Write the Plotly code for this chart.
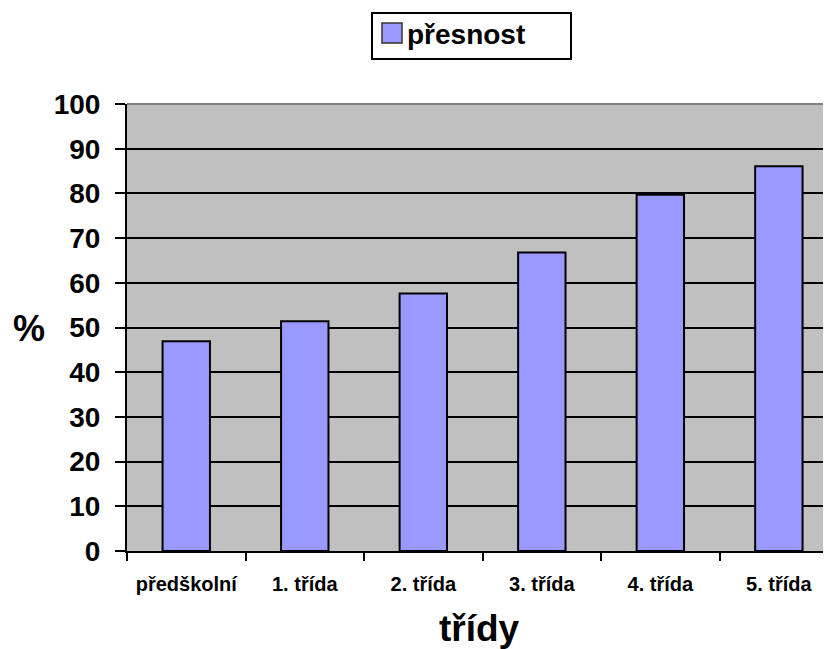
import plotly.graph_objects as go

tridy = ["předškolní", "1. třída", "2. třída", "3. třída", "4. třída", "5. třída"]
presnost = [46.9, 51.4, 57.6, 66.8, 79.7, 86.1]
nazev_serie = "přesnost"
nazev_osy_x = "třídy"
nazev_osy_y = "%"
y_ticks = list(range(0, 101, 10))

# stránka má okraj 8 px, graf proto posuneme
OFF = 8
W, H = 831 - OFF, 649 - OFF
L, R, T, B = 127 - OFF, 0, 104 - OFF, 98
FONT = "Arial, Liberation Sans, sans-serif"


def px_x(px):
    return (px - OFF - L) / (W - L - R)


def px_y(py):
    return (H - B - (py - OFF)) / (H - T - B)


trace = go.Bar(
    x=tridy,
    y=presnost,
    name=nazev_serie,
    width=0.4,
    marker={"color": "#9999FF", "line": {"color": "black", "width": 2}},
    showlegend=False,
)

layout = go.Layout(
    width=W,
    height=H,
    margin={"l": L, "r": R, "t": T, "b": B},
    paper_bgcolor="white",
    plot_bgcolor="#C0C0C0",
    font={"family": FONT, "color": "black", "weight": "bold"},
    xaxis={
        "type": "category",
        "range": [-0.5, 5.44],
        "tickson": "boundaries",
        "ticks": "outside",
        "ticklen": 8,
        "tickwidth": 2,
        "tickcolor": "black",
        "showline": True,
        "linecolor": "black",
        "linewidth": 2,
        "showgrid": False,
        "tickfont": {"size": 20, "family": FONT, "weight": "bold"},
        "ticklabelstandoff": 14,
        "title": {"text": nazev_osy_x, "font": {"size": 37, "family": FONT, "weight": "bold"}, "standoff": 26},
        "automargin": False,
    },
    yaxis={
        "range": [0, 100],
        "tickvals": y_ticks,
        "ticks": "outside",
        "ticklen": 10,
        "tickwidth": 2,
        "tickcolor": "black",
        "showline": True,
        "linecolor": "black",
        "linewidth": 2,
        "showgrid": True,
        "gridcolor": "black",
        "gridwidth": 2,
        "zeroline": False,
        "tickfont": {"size": 28, "family": FONT, "weight": "bold"},
        "ticklabelstandoff": 9,
        "automargin": False,
    },
    shapes=[
        # horní okraj plochy grafu
        {"type": "line", "xref": "paper", "yref": "paper", "x0": 0, "x1": 1, "y0": 1, "y1": 1,
         "line": {"color": "#808080", "width": 2}},
        # legenda
        {"type": "rect", "xref": "paper", "yref": "paper",
         "x0": px_x(372), "x1": px_x(571), "y0": px_y(59), "y1": px_y(13),
         "line": {"color": "black", "width": 2}, "fillcolor": "white"},
        {"type": "rect", "xref": "paper", "yref": "paper",
         "x0": px_x(382), "x1": px_x(402), "y0": px_y(43), "y1": px_y(23),
         "line": {"color": "#333333", "width": 1.5}, "fillcolor": "#9999FF"},
    ],
    annotations=[
        {"text": nazev_serie, "xref": "paper", "yref": "paper", "x": px_x(405), "y": px_y(35),
         "xanchor": "left", "yanchor": "middle", "showarrow": False,
         "font": {"size": 28, "family": FONT, "weight": "bold"}},
        {"text": nazev_osy_y, "xref": "paper", "yref": "paper", "x": px_x(29), "y": px_y(328),
         "xanchor": "center", "yanchor": "middle", "showarrow": False,
         "font": {"size": 36, "family": FONT, "weight": "bold"}},
    ],
)

fig = go.Figure(data=[trace], layout=layout)
fig.write_html("out.html")
